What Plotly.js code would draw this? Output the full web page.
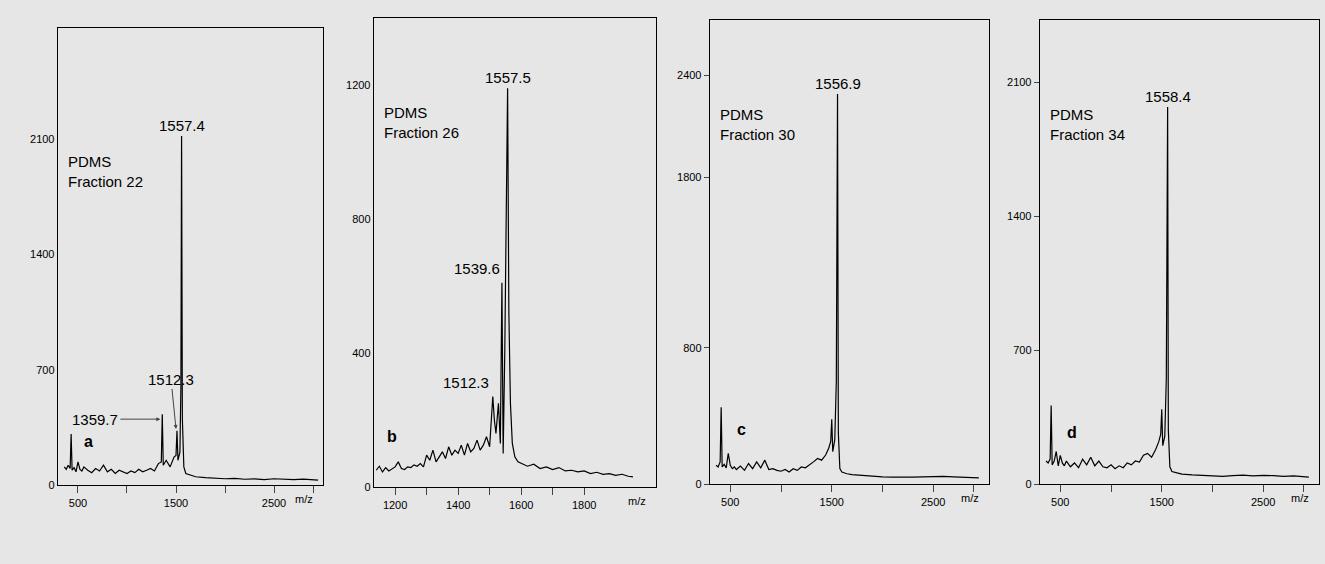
<!DOCTYPE html><html><head><script src="https://cdn.plot.ly/plotly-3.0.1.min.js"></script></head><body style="margin:0">
<div id="c" style="width:1325px;height:564px"></div>
<script>
const xA=[360,380,400,420,430,440,460,480,500,520,540,560,600,640,680,720,760,800,840,880,920,960,1000,1040,1080,1120,1160,1200,1240,1280,1320,1350,1360,1370,1400,1440,1480,1500,1510,1520,1540,1550,1557,1565,1580,1600,1650,1700,1800,1900,2000,2100,2200,2300,2400,2500,2600,2700,2800,2900,2950];
const yA=[110,95,120,100,310,90,105,80,140,95,85,110,90,75,100,85,120,80,95,70,90,80,70,85,75,95,80,90,100,85,130,140,430,120,150,110,170,180,330,150,200,600,2120,400,110,70,60,50,45,40,38,40,35,37,33,38,35,33,36,30,30];
const xB=[1140,1150,1160,1170,1180,1190,1200,1210,1220,1230,1240,1250,1260,1270,1280,1290,1300,1310,1320,1330,1340,1350,1360,1370,1380,1390,1400,1410,1420,1430,1440,1450,1460,1470,1480,1490,1500,1505,1510,1515,1520,1528,1534,1539,1543,1548,1553,1557,1561,1566,1572,1580,1590,1600,1620,1640,1660,1680,1700,1720,1740,1760,1780,1800,1820,1840,1860,1880,1900,1920,1940,1955];
const yB=[50,62,45,58,48,55,60,75,55,52,60,58,66,62,70,60,95,80,110,75,90,105,85,120,95,110,100,125,95,130,105,115,140,110,125,150,120,190,270,200,160,250,130,610,100,400,900,1190,520,250,130,90,75,70,62,68,55,60,52,58,48,50,45,48,40,44,38,40,35,38,32,30];
const xC=[360,380,400,410,420,440,460,480,500,520,540,560,600,640,680,720,760,800,840,880,920,960,1000,1040,1080,1120,1160,1200,1240,1280,1320,1360,1400,1440,1470,1490,1500,1510,1530,1545,1557,1565,1580,1600,1650,1700,1800,1900,2000,2100,2200,2300,2400,2500,2600,2700,2800,2900,2950];
const yC=[110,100,130,450,100,115,95,180,110,90,100,85,105,80,120,90,130,95,140,85,90,80,75,85,70,90,80,100,95,110,130,150,140,170,210,250,380,190,260,600,2290,300,90,70,60,55,50,45,42,40,38,40,42,44,45,42,40,38,36];
const xD=[360,380,400,410,420,440,460,480,500,520,540,560,600,640,680,720,760,800,840,880,920,960,1000,1040,1080,1120,1160,1200,1240,1280,1320,1360,1400,1440,1470,1490,1500,1510,1530,1545,1558,1565,1580,1600,1650,1700,1800,1900,2000,2100,2200,2300,2400,2500,2600,2700,2800,2900,2950];
const yD=[120,110,130,410,100,120,170,95,150,110,95,120,90,110,85,130,100,140,95,120,90,85,100,80,95,85,110,100,120,115,150,160,140,180,220,260,390,200,250,550,1970,280,90,65,58,52,48,45,42,40,44,46,42,45,44,40,42,38,36];
const peaks=["1557.4","1557.5","1556.9","1558.4"];
const fracs=["PDMS<br>Fraction 22","PDMS<br>Fraction 26","PDMS<br>Fraction 30","PDMS<br>Fraction 34"];
const letters=["a","b","c","d"];

const W=1325,H=564;
const boxes=[[58,323,28,485],[374,656,18,487],[710,989,20,484],[1040,1319,20,484]];
const xr=[[296,3000],[1133,2028],[300,3050],[300,3050]];
const yr=[[0,2776],[0,1400],[0,2724],[0,2424]];
const ytv=[[0,700,1400,2100],[0,400,800,1200],[0,800,1800,2400],[0,700,1400,2100]];
const xtv=[[500,1000,1500,2000,2500,2900],[1200,1300,1400,1500,1600,1700,1800],[500,1000,1500,2000,2500,2900],[500,1000,1500,2000,2500,2900]];
const xtt=[["500","","1500","","2500",""],["1200","","1400","","1600","","1800"],["500","","1500","","2500",""],["500","","1500","","2500",""]];
const data=[[xA,yA],[xB,yB],[xC,yC],[xD,yD]];
const peakX=[1557,1557,1557,1558];
const letterY=[262,150,320,270];
const fracY=[0.73,0.82,0.82,0.82];
const traces=[],layout={width:W,height:H,margin:{l:0,r:0,t:0,b:0},paper_bgcolor:'#e6e6e6',plot_bgcolor:'#e6e6e6',showlegend:false,font:{family:'Liberation Sans, Arial',color:'#000'},annotations:[]};
const f=15;
data.forEach((d,i)=>{
  const s=i?String(i+1):'';
  traces.push({x:d[0],y:d[1],xaxis:'x'+s,yaxis:'y'+s,type:'scatter',mode:'lines',line:{color:'#000',width:1.2}});
  const b=boxes[i];
  layout['xaxis'+s]={domain:[b[0]/W,b[1]/W],anchor:'y'+s,range:xr[i],tickvals:xtv[i],ticktext:xtt[i],ticks:'outside',ticklen:7,tickfont:{size:11},showgrid:false,zeroline:false,showline:true,mirror:true,linecolor:'#000',linewidth:1.3};
  layout['yaxis'+s]={domain:[1-b[3]/H,1-b[2]/H],anchor:'x'+s,range:yr[i],tickvals:ytv[i],ticks:i>=2?'outside':'',ticklen:5,tickfont:{size:11},showgrid:false,zeroline:false,showline:true,mirror:true,linecolor:'#000',linewidth:1.3};
  const dm=d[1][d[0].indexOf(peakX[i])];
  layout.annotations.push({xref:'x'+s,yref:'y'+s,x:peakX[i],y:dm,text:peaks[i],showarrow:false,yanchor:'bottom',font:{size:f}});
  layout.annotations.push({xref:'x'+s+' domain',yref:'y'+s+' domain',x:0.03,y:fracY[i],text:fracs[i],showarrow:false,xanchor:'left',yanchor:'top',align:'left',font:{size:f}});
  layout.annotations.push({xref:'x'+s+' domain',yref:'y'+s,x:i==1?0.04:0.09,y:letterY[i],text:'<b>'+letters[i]+'</b>',showarrow:false,xanchor:'left',font:{size:16}});
  layout.annotations.push({xref:'x'+s+' domain',yref:'paper',x:0.97,y:1-(b[3]+22)/H,text:'m/z',showarrow:false,font:{size:11}});
});
layout.annotations.push({xref:'x',yref:'y',x:1340,y:400,ax:-40,ay:0,text:'1359.7',arrowhead:2,arrowsize:0.8,arrowwidth:1,xanchor:'right',font:{size:f},showarrow:true});
layout.annotations.push({xref:'x',yref:'y',x:1500,y:340,ax:-5,ay:-50,text:'1512.3',arrowhead:2,arrowsize:0.8,arrowwidth:1,font:{size:f},showarrow:true});
layout.annotations.push({xref:'x2',yref:'y2',x:1539,y:620,text:'1539.6',showarrow:false,xanchor:'right',yanchor:'bottom',font:{size:f}});
layout.annotations.push({xref:'x2',yref:'y2',x:1505,y:280,text:'1512.3',showarrow:false,xanchor:'right',yanchor:'bottom',font:{size:f}});
Plotly.newPlot('c',traces,layout,{staticPlot:true});
</script></body></html>
